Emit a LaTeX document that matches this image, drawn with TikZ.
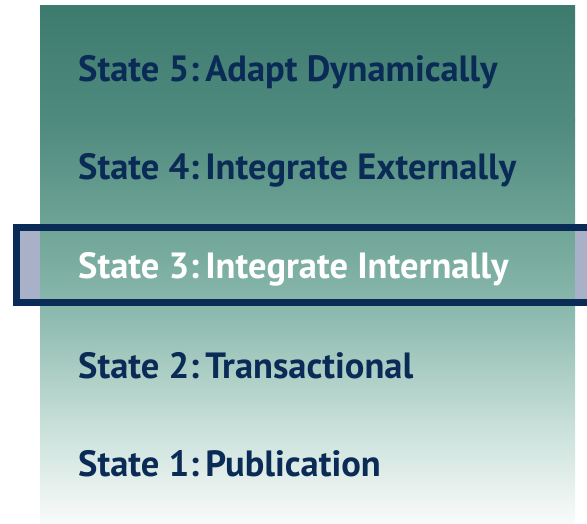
\documentclass[tikz,border=0pt]{standalone}
\usepackage{fontspec}
\setmainfont{PT Sans}
\definecolor{navy}{HTML}{0B2B57}
\definecolor{lav}{HTML}{A9B1C9}
\definecolor{g0}{HTML}{3E7B6F}
\definecolor{g1}{HTML}{4F8A7E}
\definecolor{g2}{HTML}{6FA597}
\definecolor{g3}{HTML}{8BB9AD}
\definecolor{g4}{HTML}{C5DED7}
\definecolor{g5}{HTML}{F0F6F4}
\definecolor{g6}{HTML}{F8FBFA}
\tikzset{
  x=1pt, y=-1pt,
  statelabel/.style={anchor=base west, inner sep=0pt, text=navy,
    font=\fontsize{36.5}{36.5}\selectfont\bfseries},
  current/.style={statelabel, text=white},
  band/.style={top color=#1, bottom color=#1},
}
\begin{document}
\begin{tikzpicture}
  \useasboundingbox (0,0) rectangle (587,524);
  % shaded stack of states (upright axes so top color stays on top)
  \begin{scope}[y=1pt]
    \shade[top color=g0, bottom color=g1] (40,-6)   rectangle (575,-120.5);
    \shade[top color=g1, bottom color=g2] (40,-120) rectangle (575,-230.5);
    \shade[top color=g2, bottom color=g3] (40,-230) rectangle (575,-310.5);
    \shade[top color=g3, bottom color=g4] (40,-310) rectangle (575,-420.5);
    \shade[top color=g4, bottom color=g5] (40,-420) rectangle (575,-505.5);
    \shade[top color=g5, bottom color=g6] (40,-505) rectangle (575,-524);
  \end{scope}
  % frame around the current state
  \fill[lav] (17,228) rectangle (40,302);
  \fill[lav] (575,228) rectangle (590,302);
  \draw[navy, line width=7pt] (590,227.5) -- (16.5,227.5) -- (16.5,302.5) -- (590,302.5);
  % state labels
  \node[statelabel] (s5) at (78,82) {State 5:\,Adapt Dynamically};
  \node[statelabel] (s4) at (78,180) {State 4:\,Integrate Externally};
  \node[current]    (s3) at (78,278) {State 3:\,Integrate Internally};
  \node[statelabel] (s2) at (78,378) {State 2:\,Transactional};
  \node[statelabel] (s1) at (78,476) {State 1:\,Publication};
\end{tikzpicture}
\end{document}
